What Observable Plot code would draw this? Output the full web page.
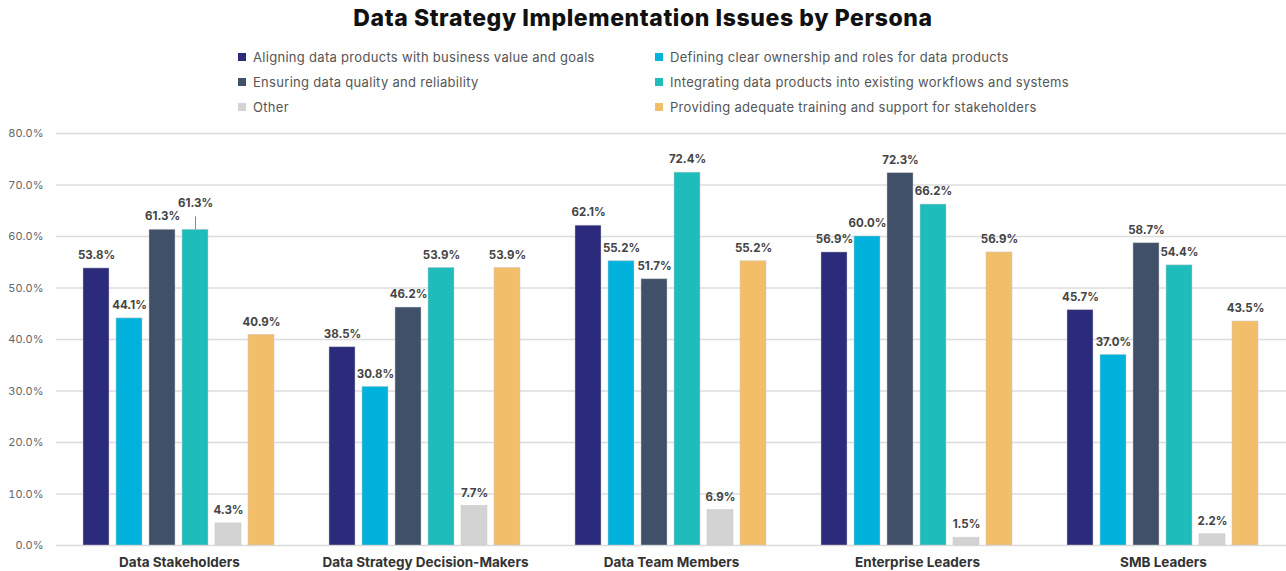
<!DOCTYPE html>
<html>
<head>
<meta charset="utf-8">
<script src="https://cdn.jsdelivr.net/npm/d3@7"></script>
<script src="https://cdn.jsdelivr.net/npm/@observablehq/plot@0.6"></script>
<style>
  html, body { margin: 0; padding: 0; background: #fff; }
  body { width: 1286px; height: 571px; position: relative; overflow: hidden; font-family: Inter, "Noto Sans", sans-serif; }
  #title { position: absolute; left: 0; width: 1286px; top: 3px; text-align: center; font-size: 23px; font-weight: 800; color: #111; line-height: 30px; letter-spacing: 0.6px; }
  .leg { position: absolute; font-size: 13px; color: #555; line-height: 16px; white-space: nowrap; letter-spacing: 0.3px; }
  .leg span.sw { display: inline-block; width: 8px; height: 8px; margin-right: 7px; vertical-align: 1px; }
  #chart { position: absolute; left: 0; top: 120px; }
</style>
</head>
<body>
<div id="title">Data Strategy Implementation Issues by Persona</div>
<div id="legend"></div>
<div id="chart"></div>
<script>
const personas = ["Data Stakeholders", "Data Strategy Decision-Makers", "Data Team Members", "Enterprise Leaders", "SMB Leaders"];
const series = [
  "Aligning data products with business value and goals",
  "Defining clear ownership and roles for data products",
  "Ensuring data quality and reliability",
  "Integrating data products into existing workflows and systems",
  "Other",
  "Providing adequate training and support for stakeholders"
];
const colors = ["#2b2a7b", "#00b2dc", "#3f5068", "#1fbcbc", "#d3d3d3", "#f3be69"];
const aligning    = [53.8, 38.5, 62.1, 56.9, 45.7];
const defining    = [44.1, 30.8, 55.2, 60.0, 37.0];
const ensuring    = [61.3, 46.2, 51.7, 72.3, 58.7];
const integrating = [61.3, 53.9, 72.4, 66.2, 54.4];
const other       = [4.3, 7.7, 6.9, 1.5, 2.2];
const providing   = [40.9, 53.9, 55.2, 56.9, 43.5];
const yTicks = [0, 10, 20, 30, 40, 50, 60, 70, 80];
// label that is lifted with a leader line (persona, series index)
const raised = [["Data Stakeholders", 3]];

const valuesBySeries = [aligning, defining, ensuring, integrating, other, providing];
const data = [];
personas.forEach((p, i) => {
  series.forEach((s, j) => {
    const isRaised = raised.some(([rp, rj]) => rp === p && rj === j);
    data.push({persona: p, series: s, value: valuesBySeries[j][i], raised: isRaised});
  });
});
const normal = data.filter(d => !d.raised);
const lifted = data.filter(d => d.raised);

// Legend
const legend = document.getElementById("legend");
const rowsY = [49, 74, 99];
series.forEach((s, j) => {
  const col = j % 2, row = Math.floor(j / 2);
  const el = document.createElement("div");
  el.className = "leg";
  el.style.left = (col === 0 ? 238 : 655) + "px";
  el.style.top = rowsY[row] + "px";
  el.innerHTML = `<span class="sw" style="background:${colors[j]}"></span>${s}`;
  legend.appendChild(el);
});

const chart = Plot.plot({
  width: 1286,
  height: 451,
  marginLeft: 55,
  marginRight: 0,
  marginTop: 13,
  marginBottom: 26,
  style: {fontFamily: "Inter, 'Noto Sans', sans-serif", fontSize: "11px", background: "transparent"},
  fx: {domain: personas, padding: 0, label: null},
  x: {domain: series, paddingInner: 0.21, paddingOuter: 0.82, axis: null},
  y: {domain: [0, 80], label: null},
  color: {domain: series, range: colors},
  marks: [
    Plot.gridY(yTicks, {stroke: "#dcdcdc", strokeOpacity: 1, strokeWidth: 1.5}),
    Plot.axisY(yTicks, {tickSize: 0, tickPadding: 13, tickFormat: d => d.toFixed(1) + "%", fill: "#666", fontSize: 11, label: null}),
    Plot.axisFx({anchor: "bottom", tickSize: 0, tickPadding: 12, fontSize: 13.5, fontWeight: "bold", fill: "#333", label: null}),
    Plot.barY(data, {fx: "persona", x: "series", y: "value", fill: "series", stroke: "#c8c8c8", strokeOpacity: 0.6, strokeWidth: 0.8}),
    Plot.text(normal, {fx: "persona", x: "series", y: "value", text: d => d.value.toFixed(1) + "%", dy: -13, fontWeight: "bold", fill: "#444", fontSize: 11.5}),
    Plot.ruleX(lifted, {fx: "persona", x: "series", y1: "value", y2: d => d.value + 2.5, stroke: "#888", strokeWidth: 1}),
    Plot.text(lifted, {fx: "persona", x: "series", y: "value", text: d => d.value.toFixed(1) + "%", dy: -26, fontWeight: "bold", fill: "#444", fontSize: 11.5})
  ]
});
document.getElementById("chart").appendChild(chart);
</script>
</body>
</html>
